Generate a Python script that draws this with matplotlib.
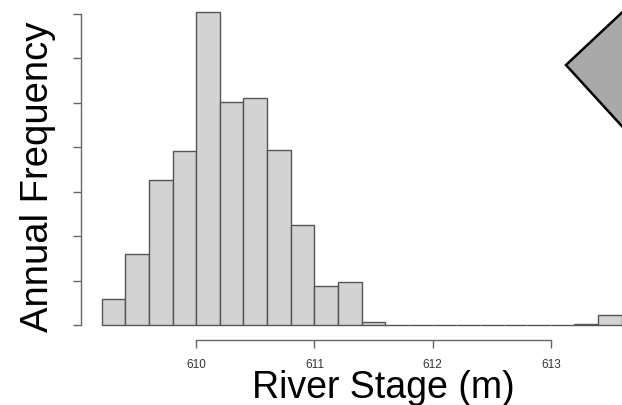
import matplotlib
matplotlib.use("Agg")
import matplotlib.pyplot as plt
from matplotlib.patches import Polygon

# Data
bin_left = [609.2, 609.4, 609.6, 609.8, 610.0, 610.2, 610.4, 610.6, 610.8, 611.0, 611.2,
            611.4, 611.6, 611.8, 612.0, 612.2, 612.4, 612.6, 612.8, 613.0, 613.2, 613.4]
freq = [0.58, 1.60, 3.26, 3.92, 7.04, 5.03, 5.10, 3.93, 2.26, 0.885, 0.96,
        0.06, 0.0, 0.0, 0.0, 0.0, 0.0, 0.0, 0.0, 0.0, 0.02, 0.22]
bin_width = 0.2
x_ticks = [610, 611, 612, 613]
x_tick_labels = ["610", "611", "612", "613"]
y_ticks = [0, 1, 2, 3, 4, 5, 6, 7]

plt.rcParams['font.family'] = ['Liberation Sans', 'DejaVu Sans']

W, H = 622, 405
fig = plt.figure(figsize=(W / 100, H / 100), dpi=100)

# axes box in pixels
ax_l, ax_r, ax_t, ax_b = 90, 622, 5, 325
ax = fig.add_axes([ax_l / W, 1 - ax_b / H, (ax_r - ax_l) / W, (ax_b - ax_t) / H])

ppm = 118.2  # pixels per metre
x0_px = 196.2  # pixel of 610
ax.set_xlim(610 + (ax_l - x0_px) / ppm, 610 + (ax_r - x0_px) / ppm)
ppu = 44.43
ax.set_ylim(0, (ax_b - ax_t) / ppu)

ax.bar(bin_left, freq, width=bin_width, align='edge', color='#d3d3d3',
       edgecolor='#555555', linewidth=1.0, clip_on=False, zorder=2)

for s in ['top', 'right']:
    ax.spines[s].set_visible(False)
ax.spines['left'].set_bounds(0, 7)
ax.spines['left'].set_position(('outward', 9.5 * 72 / 100))
ax.spines['bottom'].set_bounds(610, 613)
ax.spines['bottom'].set_position(('outward', 14.7 * 72 / 100))
for s in ['left', 'bottom']:
    ax.spines[s].set_color('#666666')
    ax.spines[s].set_linewidth(1.0)

ax.set_yticks(y_ticks)
ax.set_yticklabels([])
ax.set_xticks(x_ticks)
ax.set_xticklabels(x_tick_labels)
ax.tick_params(axis='both', color='#666666', length=5.8, width=1.0)
ax.tick_params(axis='x', labelsize=8.5, labelcolor='#333333', pad=8)

fig.text(383.5 / W, 1 - 398 / H, "River Stage (m)", fontsize=27,
         ha='center', va='baseline')
fig.text(38 / W, 1 - 177 / H, "Annual Frequency", fontsize=27.5,
         rotation=90, ha='center', va='center')

def px(x, y):
    return (x / W, 1 - y / H)

tri = Polygon([px(566, 65), px(630, 5), px(694, 65), px(630, 135)],
              closed=True, facecolor='#a9a9a9', edgecolor='black', linewidth=1.8,
              transform=fig.transFigure)
fig.add_artist(tri)

fig.savefig("out.png", dpi=100)
